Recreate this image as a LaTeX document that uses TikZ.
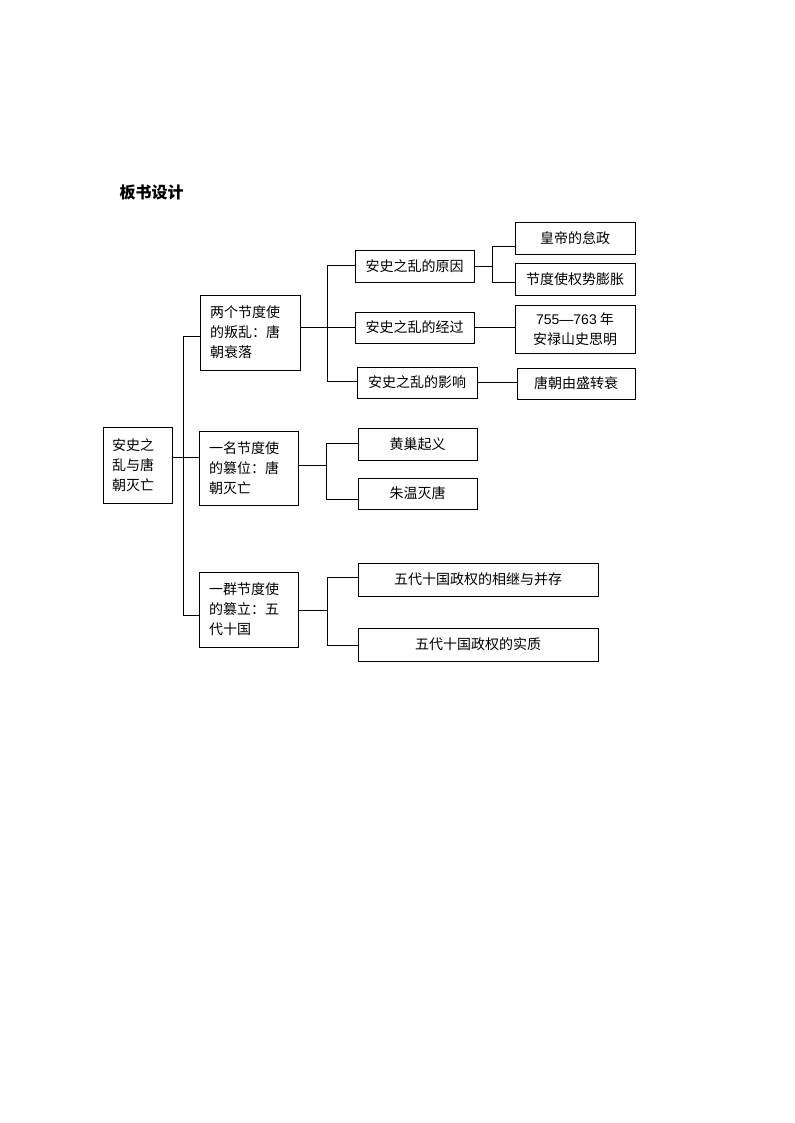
\documentclass[tikz,border=0pt]{standalone}
\usepackage{fontspec}
\setmainfont{Noto Sans CJK SC}
\newfontfamily\latinfont{Liberation Sans}
\newcommand\bx[7][]{\node[box,#1, minimum width={(#4-#2)*0.75pt}, minimum height={(#5-#3)*0.75pt}] (#6) at ({(#2+#4)/2},{(#3+#5)/2}) {#7};}
\begin{document}
\begin{tikzpicture}[x=0.75pt,y=-0.75pt,
  box/.style={draw, line width=0.6pt, inner sep=0pt, align=center, font=\fontsize{10.5pt}{15pt}\selectfont},
  conn/.style={line width=0.6pt}]
\useasboundingbox (0,0) rectangle (794,1123);
\node[font=\bfseries\fontsize{12pt}{14pt}\selectfont, anchor=west] (title) at (115,192) {板书设计};
% root
\bx[align=left, text width=38.25pt]{103}{427}{172}{503}{root}{安史之\\乱与唐\\朝灭亡}
% level 2
\bx[align=left, text width=60pt]{200}{295}{300}{370}{b1}{两个节度使\\的叛乱：唐\\朝衰落}
\bx[align=left, text width=59.25pt]{199}{431}{298}{505}{b2}{一名节度使\\的篡位：唐\\朝灭亡}
\bx[align=left, text width=59.25pt]{199}{572}{298}{647}{b3}{一群节度使\\的篡立：五\\代十国}
% level 3
\bx{355}{250}{474}{282}{a1}{安史之乱的原因}
\bx{355}{312}{474}{343}{a2}{安史之乱的经过}
\bx{357}{367}{477}{398}{a3}{安史之乱的影响}
\bx{358}{428}{477}{460}{d1}{黄巢起义}
\bx{358}{478}{477}{509}{d2}{朱温灭唐}
\bx{358}{563}{598}{596}{e1}{五代十国政权的相继与并存}
\bx{358}{628}{598}{661}{e2}{五代十国政权的实质}
% level 4
\bx{515}{222}{635}{254}{c1}{皇帝的怠政}
\bx{515}{263}{635}{295}{c2}{节度使权势膨胀}
\bx{515}{305}{635}{353}{c3}{{\latinfont 755—763} 年\\安禄山史思明}
\bx{517}{368}{635}{399}{c4}{唐朝由盛转衰}
% connectors: main trunk
\coordinate (t0) at (183,336);
\coordinate (t1) at (183,615);
\coordinate (tm) at (183,457);
\draw[conn] (t0) -- (t1);
\draw[conn] (t0) -- (b1.west |- t0);
\draw[conn] (t1) -- (b3.west |- t1);
\draw[conn] (root.east |- tm) -- (b2.west |- tm);
% b1 branch
\coordinate (u0) at (327,265);
\coordinate (u1) at (327,381);
\draw[conn] (u0) -- (u1);
\draw[conn] (u0) -- (a1.west |- u0);
\draw[conn] (u1) -- (a3.west |- u1);
\draw[conn] (b1.east |- a2.west) -- (a2.west);
% a1 bracket
\coordinate (v0) at (492,246);
\coordinate (v1) at (492,282);
\draw[conn] (a1.east) -- (a1.east -| v0);
\draw[conn] (v0) -- (v1);
\draw[conn] (v0) -- (c1.west |- v0);
\draw[conn] (v1) -- (c2.west |- v1);
\draw[conn] (a2.east) -- (a2.east -| c3.west);
\draw[conn] (a3.east) -- (a3.east -| c4.west);
% b2 branch
\coordinate (w0) at (326,443);
\coordinate (w1) at (326,499);
\coordinate (wm) at (326,465);
\draw[conn] (b2.east |- wm) -- (wm);
\draw[conn] (w0) -- (w1);
\draw[conn] (w0) -- (d1.west |- w0);
\draw[conn] (w1) -- (d2.west |- w1);
% b3 branch
\coordinate (x0) at (327,577);
\coordinate (x1) at (327,645);
\coordinate (xm) at (327,610);
\draw[conn] (b3.east |- xm) -- (xm);
\draw[conn] (x0) -- (x1);
\draw[conn] (x0) -- (e1.west |- x0);
\draw[conn] (x1) -- (e2.west |- x1);
\end{tikzpicture}
\end{document}
